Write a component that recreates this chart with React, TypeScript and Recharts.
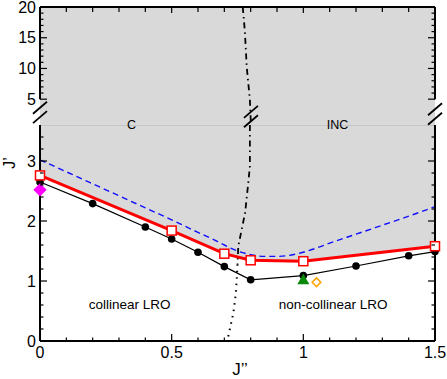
import React from 'react';
import {
  ComposedChart, Line, Area, Scatter, XAxis, YAxis, ReferenceLine, ReferenceDot,
} from 'recharts';

const FONT = '"Liberation Sans", Arial, Helvetica, sans-serif';

// axis ticks (J'' across, J' up; the J' axis is broken between 3.6 and 5)
const X_TICKS = [0, 0.1, 0.2, 0.3, 0.4, 0.5, 0.6, 0.7, 0.8, 0.9, 1, 1.1, 1.2, 1.3, 1.4, 1.5];
const X_LABELS: Record<string, string> = { '0': '0', '0.5': '0.5', '1': '1', '1.5': '1.5' };
const Y_LOW_TICKS = [0, 0.2, 0.4, 0.6, 0.8, 1, 1.2, 1.4, 1.6, 1.8, 2, 2.2, 2.4, 2.6, 2.8, 3, 3.2, 3.4];
const Y_LOW_LABELS: Record<string, string> = { '0': '0', '1': '1', '2': '2', '3': '3' };
const Y_HIGH_TICKS = [5, 6, 7, 8, 9, 10, 11, 12, 13, 14, 15, 16, 17, 18, 19, 20];
const Y_HIGH_LABELS: Record<string, string> = { '5': '5', '10': '10', '15': '15', '20': '20' };
const Y_LOW_DOMAIN: [number, number] = [0, 3.6];
const Y_HIGH_DOMAIN: [number, number] = [0.8, 20];

// black dots
const BLACK_X = [0, 0.2, 0.4, 0.5, 0.6, 0.7, 0.8, 1.0, 1.2, 1.4, 1.5];
const BLACK_Y = [2.65, 2.29, 1.9, 1.7, 1.48, 1.24, 1.02, 1.09, 1.25, 1.42, 1.49];
// red open squares
const RED_X = [0, 0.5, 0.7, 0.8, 1.0, 1.5];
const RED_Y = [2.76, 1.84, 1.455, 1.345, 1.33, 1.58];
// blue dashed curve
const BLUE_X = [0, 0.1, 0.2, 0.3, 0.4, 0.5, 0.6, 0.65, 0.7, 0.75, 0.8, 0.85, 0.9, 0.95, 1.0, 1.05, 1.1, 1.2, 1.3, 1.4, 1.5];
const BLUE_Y = [3.02, 2.82, 2.62, 2.42, 2.22, 2.02, 1.81, 1.71, 1.6, 1.5, 1.44, 1.41, 1.41, 1.43, 1.48, 1.55, 1.63, 1.78, 1.93, 2.08, 2.24];
// C / INC boundary
const PHASE_HIGH_X = [0.77, 0.778, 0.785, 0.797, 0.801];
const PHASE_HIGH_Y = [20, 16, 10.3, 4.9, 0.8];
const PHASE_MID_X = [0.797, 0.797, 0.791, 0.779, 0.766, 0.753, 0.75];
const PHASE_MID_Y = [3.6, 2.91, 2.64, 2.14, 1.86, 1.58, 1.28];
const PHASE_LOW_X = [0.75, 0.749, 0.744, 0.734, 0.714];
const PHASE_LOW_Y = [1.28, 1.19, 0.8, 0.46, 0.06];
// single points
const MAGENTA_PT = [{ x: 0, y: 2.52 }];
const GREEN_PT = [{ x: 1.0, y: 1.02 }];
const ORANGE_PT = [{ x: 1.05, y: 0.98 }];
// shaded region bounds
const SHADE_LOW = [{ x: 0, y: 3.6 }, { x: 1.5, y: 3.6 }];
const SHADE_HIGH = [{ x: 0, y: 20 }, { x: 1.5, y: 20 }];

const zip = (xs: number[], ys: number[]) => xs.map((x, i) => ({ x, y: ys[i] }));

const black = zip(BLACK_X, BLACK_Y);
const red = zip(RED_X, RED_Y);
const blue = zip(BLUE_X, BLUE_Y);
const phaseHigh = zip(PHASE_HIGH_X, PHASE_HIGH_Y);
const phaseMid = zip(PHASE_MID_X, PHASE_MID_Y);
const phaseLow = zip(PHASE_LOW_X, PHASE_LOW_Y);

const txt = { fontFamily: FONT, fill: '#000' };

const leftTick = (labels: Record<string, string>) => (p: any) => {
  const lab = labels[String(p.payload.value)];
  return (
    <g>
      <line x1={p.x} x2={p.x + (lab ? 7 : 3.5)} y1={p.y} y2={p.y} stroke="#000" strokeWidth={1.2} />
      {lab && <text x={p.x - 4} y={p.y + 5.5} textAnchor="end" fontSize={16} {...txt}>{lab}</text>}
    </g>
  );
};

const rightTick = (labels: Record<string, string>) => (p: any) => {
  const major = !!labels[String(p.payload.value)];
  return <line x1={p.x} x2={p.x - (major ? 7 : 3.5)} y1={p.y} y2={p.y} stroke="#000" strokeWidth={1.2} />;
};

const bottomTick = (p: any) => {
  const lab = X_LABELS[String(p.payload.value)];
  return (
    <g>
      <line x1={p.x} x2={p.x} y1={p.y} y2={p.y - (lab ? 7 : 3.5)} stroke="#000" strokeWidth={1.2} />
      {lab && <text x={p.x} y={p.y + 17} textAnchor="middle" fontSize={16} {...txt}>{lab}</text>}
    </g>
  );
};

const topTick = (p: any) => {
  const major = !!X_LABELS[String(p.payload.value)];
  return <line x1={p.x} x2={p.x} y1={p.y} y2={p.y + (major ? 6 : 5)} stroke="#000" strokeWidth={1.2} />;
};

const square = (p: any) => (
  <rect key={`sq-${p.index}`} x={p.cx - 4.5} y={p.cy - 4.5} width={9} height={9} fill="#fff" stroke="#ff0000" strokeWidth={1.5} />
);

const diamond = (fill: string, stroke: string, h: number) => (p: any) => (
  <polygon
    points={`${p.cx},${p.cy - h} ${p.cx + h},${p.cy} ${p.cx},${p.cy + h} ${p.cx - h},${p.cy}`}
    fill={fill} stroke={stroke} strokeWidth={1.6}
  />
);

const triangle = (p: any) => (
  <polygon points={`${p.cx},${p.cy - 6} ${p.cx + 6},${p.cy + 4.5} ${p.cx - 6},${p.cy + 4.5}`} fill="#0a8a0a" />
);

const breakMark = (p: any) => (
  <g stroke="#000" strokeWidth={1.8}>
    <line x1={p.cx - 7} y1={p.cy - 4.7 + 6} x2={p.cx + 7} y2={p.cy - 4.7 - 6} />
    <line x1={p.cx - 7} y1={p.cy + 4.7 + 6} x2={p.cx + 7} y2={p.cy + 4.7 - 6} />
  </g>
);

const textShape = (text: string, size: number) => (p: any) => (
  <text x={p.cx} y={p.cy} textAnchor="middle" dominantBaseline="central" fontSize={size} {...txt}>{text}</text>
);

// where the axis breaks and the region names sit
const BREAKS = [{ x: 0, y: 2.85 }, { x: 0.801, y: 2.18 }, { x: 1.5, y: 2.59 }];
const REGION_NAMES = [{ x: 0.348, y: 0.8, text: 'C' }, { x: 1.13, y: 0.8, text: 'INC' }];
const ORDER_NAMES = [{ x: 0.34, y: 0.61, text: 'collinear LRO' }, { x: 1.113, y: 0.61, text: 'non-collinear LRO' }];

const GRAY = '#d9d9d9';

const LowerPanel = () => (
  <ComposedChart width={447} height={261} margin={{ top: 7, right: 0, bottom: 0, left: 0 }}>
    <Area data={SHADE_LOW} dataKey="y" type="linear" baseValue="dataMin" fill={GRAY} fillOpacity={1} stroke="none" isAnimationActive={false} />
    <Area data={red} dataKey="y" type="linear" baseValue="dataMin" fill="#fff" fillOpacity={1} stroke="none" isAnimationActive={false} />
    <ReferenceLine y={3.6} stroke="#b4b4b4" strokeWidth={1} />
    <XAxis
      dataKey="x" type="number" domain={[0, 1.5]} ticks={X_TICKS} interval={0} height={38}
      axisLine={{ stroke: '#000', strokeWidth: 2 }} tickLine={false} tickSize={0} tickMargin={0} tick={bottomTick}
      label={{ content: () => <text x={240} y={257} textAnchor="middle" fontSize={17} {...txt}>J’’</text> }}
    />
    <YAxis
      dataKey="y" type="number" domain={Y_LOW_DOMAIN} ticks={Y_LOW_TICKS} interval={0} width={40} allowDataOverflow
      axisLine={{ stroke: '#000', strokeWidth: 2 }} tickLine={false} tickSize={0} tickMargin={0} tick={leftTick(Y_LOW_LABELS)}
      label={{ content: () => <text transform="translate(9,45) rotate(-90)" textAnchor="middle" dominantBaseline="central" fontSize={16} {...txt}>J’</text> }}
    />
    <YAxis
      yAxisId="r" orientation="right" type="number" domain={Y_LOW_DOMAIN} ticks={Y_LOW_TICKS} interval={0} width={12} allowDataOverflow
      axisLine={{ stroke: '#000', strokeWidth: 2 }} tickLine={false} tickSize={0} tickMargin={0} tick={rightTick(Y_LOW_LABELS)}
    />
    <Line data={black} dataKey="y" type="linear" stroke="#000" strokeWidth={1.2}
      dot={{ r: 3.8, fill: '#000', stroke: '#000', strokeWidth: 0 }} isAnimationActive={false} />
    <Line data={blue} dataKey="y" type="monotone" stroke="#1010ff" strokeWidth={1.4} strokeDasharray="6 4" dot={false} isAnimationActive={false} />
    <Line data={phaseMid} dataKey="y" type="linear" stroke="#000" strokeWidth={1.8} strokeDasharray="6 4 1.5 4" dot={false} isAnimationActive={false} />
    <Line data={phaseLow} dataKey="y" type="linear" stroke="#000" strokeWidth={2} strokeDasharray="1.5 5" dot={false} isAnimationActive={false} />
    <Line data={red} dataKey="y" type="linear" stroke="#ff0000" strokeWidth={3} dot={square} isAnimationActive={false} />
    <Scatter data={MAGENTA_PT} dataKey="y" shape={diamond('#ff00ff', '#ff00ff', 5.5)} isAnimationActive={false} />
    <Scatter data={GREEN_PT} dataKey="y" shape={triangle} isAnimationActive={false} />
    <Scatter data={ORANGE_PT} dataKey="y" shape={diamond('#fff', '#ffa500', 4.3)} isAnimationActive={false} />
    {ORDER_NAMES.map((n) => (
      <ReferenceDot key={n.text} x={n.x} y={n.y} r={0} shape={textShape(n.text, 13.5)} />
    ))}
  </ComposedChart>
);

const UpperPanel = () => (
  <ComposedChart width={447} height={140} margin={{ top: 0, right: 0, bottom: 15, left: 0 }}>
    <Area data={SHADE_HIGH} dataKey="y" type="linear" baseValue="dataMin" fill={GRAY} fillOpacity={1} stroke="none" isAnimationActive={false} />
    <XAxis
      dataKey="x" type="number" orientation="top" domain={[0, 1.5]} ticks={X_TICKS} interval={0} height={7}
      axisLine={{ stroke: '#000', strokeWidth: 2 }} tickLine={false} tickSize={0} tickMargin={0} tick={topTick}
    />
    <YAxis
      dataKey="y" type="number" domain={Y_HIGH_DOMAIN} ticks={Y_HIGH_TICKS} interval={0} width={40} allowDataOverflow
      axisLine={false} tickLine={false} tickSize={0} tickMargin={0} tick={leftTick(Y_HIGH_LABELS)}
    />
    <YAxis
      yAxisId="r" orientation="right" type="number" domain={Y_HIGH_DOMAIN} ticks={Y_HIGH_TICKS} interval={0} width={12} allowDataOverflow
      axisLine={false} tickLine={false} tickSize={0} tickMargin={0} tick={rightTick(Y_HIGH_LABELS)}
    />
    <ReferenceLine segment={[{ x: 0, y: 5 }, { x: 0, y: 20 }]} stroke="#000" strokeWidth={2} />
    <ReferenceLine segment={[{ x: 1.5, y: 5 }, { x: 1.5, y: 20 }]} stroke="#000" strokeWidth={2} />
    <Line data={phaseHigh} dataKey="y" type="linear" stroke="#000" strokeWidth={1.8} strokeDasharray="6 4 1.5 4" dot={false} isAnimationActive={false} />
    {BREAKS.map((b, i) => (
      <ReferenceDot key={`br-${i}`} x={b.x} y={b.y} r={0} shape={breakMark} />
    ))}
    {REGION_NAMES.map((n) => (
      <ReferenceDot key={n.text} x={n.x} y={n.y} r={0} shape={textShape(n.text, 12.5)} />
    ))}
  </ComposedChart>
);

export default function App() {
  return (
    <div style={{ position: 'absolute', left: 0, top: 0, width: 447, height: 379, background: '#fff', overflow: 'hidden' }}>
      <div style={{ position: 'absolute', left: 0, top: 118 }}>
        <LowerPanel />
      </div>
      <div style={{ position: 'absolute', left: 0, top: 0 }}>
        <UpperPanel />
      </div>
    </div>
  );
}
